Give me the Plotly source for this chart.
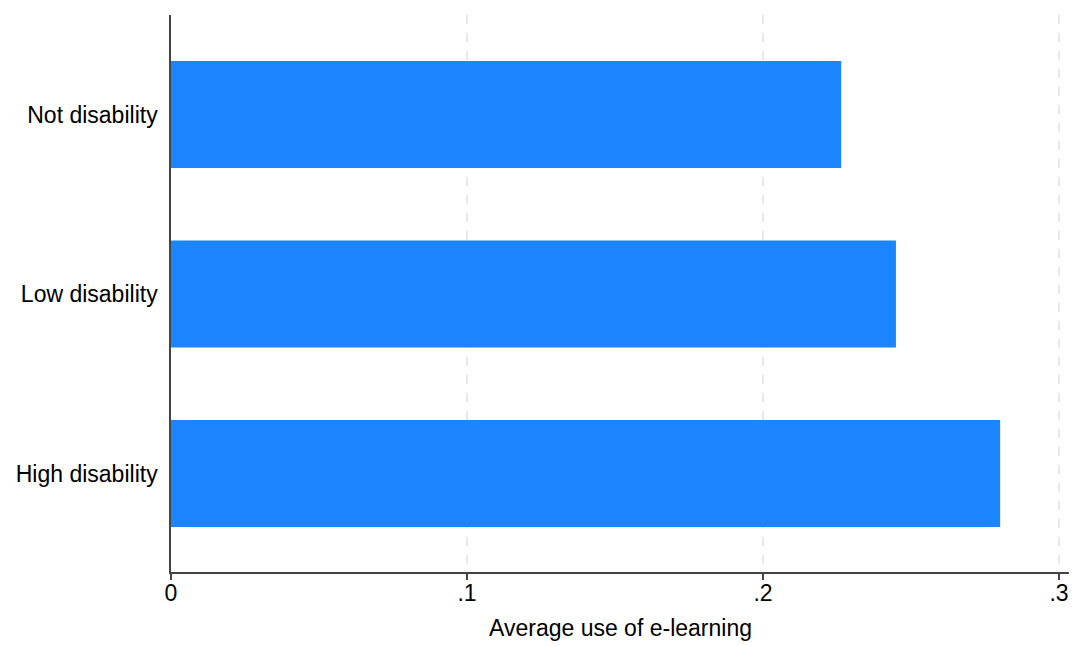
import plotly.graph_objects as go

categories = ["Not disability", "Low disability", "High disability"]
values = [0.2264, 0.2449, 0.2801]
tick_vals = [0, 0.1, 0.2, 0.3]
tick_text = ["0", ".1", ".2", ".3"]

fig = go.Figure(go.Bar(
    y=categories, x=values, orientation="h",
    marker=dict(color="#1a85ff", line=dict(width=0)),
    width=0.596,
))

font = "Liberation Sans, Arial, sans-serif"
fig.update_layout(
    width=1077, height=646,
    margin=dict(l=163, r=15, t=7, b=82),
    paper_bgcolor="white", plot_bgcolor="white",
    font=dict(family=font, size=23, color="black"),
    showlegend=False,
)
fig.update_xaxes(
    range=[0, 0.3037], tickvals=tick_vals, ticktext=tick_text,
    showline=True, linecolor="#444", linewidth=1.5,
    ticks="outside", ticklen=6, tickcolor="#444", tickwidth=1.5,
    showgrid=True, gridcolor="#e8e8e8", griddash="dash", gridwidth=1.5,
    zeroline=False, ticklabelstandoff=-6,
    title=dict(text="Average use of e-learning", standoff=15, font=dict(size=23)),
    tickfont=dict(size=23),
)
fig.update_yaxes(
    categoryorder="array", categoryarray=categories,
    range=[2.549, -0.554],
    showline=True, linecolor="#444", linewidth=1.5,
    ticks="", showgrid=False, zeroline=False,
    ticklabelstandoff=7, tickfont=dict(size=23),
)

fig.write_html("out.html")
